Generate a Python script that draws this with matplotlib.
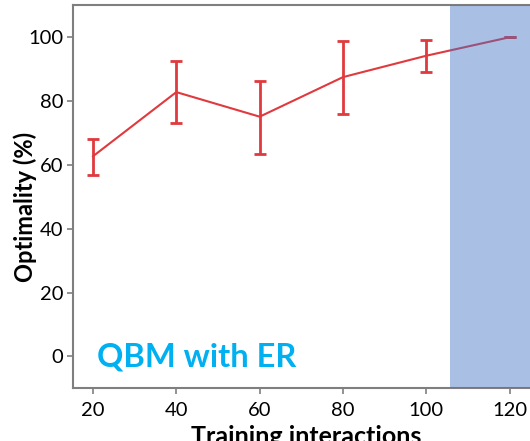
import matplotlib

matplotlib.use("Agg")
import matplotlib.pyplot as plt

# training interactions vs. optimality, mean with asymmetric error bars
interactions = [20, 40, 60, 80, 100, 120]
optimality = [62.7, 82.8, 75.1, 87.5, 94.2, 100.0]
err_low = [6.0, 9.6, 11.6, 11.5, 5.2, 0.0]
err_high = [5.5, 9.8, 11.3, 11.2, 5.0, 0.0]

shade_start = 105.7
y_ticks = [0, 20, 40, 60, 80, 100]
x_ticks = [20, 40, 60, 80, 100, 120]

red = "#E0393E"
grey = "#7F7F7F"

plt.rcParams["font.family"] = ["Lato", "DejaVu Sans"]

fig = plt.figure(figsize=(5.3, 4.41), dpi=100)
ax = fig.add_axes([0.1377, 0.1195, 0.879, 0.8685])

ax.errorbar(
    interactions, optimality, yerr=[err_low, err_high],
    color=red, linewidth=1.5, elinewidth=2.0, capsize=4.2, capthick=2.0, zorder=2,
)
ax.axvspan(shade_start, 140, color="#4472C4", alpha=0.45, linewidth=0, zorder=3)

ax.set_xlim(15.2, 127)
ax.set_ylim(-10, 110)
ax.set_xticks(x_ticks)
ax.set_yticks(y_ticks)

ax.text(21, -3.3, "QBM with ER", color="#00B0F0", fontsize=23.5, fontweight="bold",
        ha="left", va="baseline", zorder=4)

ax.set_ylabel("Optimality (%)", fontsize=17, fontweight="bold")
ax.set_xlabel("Training interactions", fontsize=18, fontweight="bold")
ax.yaxis.set_label_coords(-0.077, 0.473)
ax.xaxis.set_label_coords(0.5, -0.096)

for side in ("left", "bottom", "top", "right"):
    ax.spines[side].set_color(grey)
    ax.spines[side].set_linewidth(1.5)
ax.tick_params(axis="both", direction="out", length=4, width=1.2, color=grey,
               labelsize=14.5, labelcolor="black")
ax.tick_params(axis="x", pad=6)
ax.tick_params(axis="y", pad=3)

fig.savefig("out.png", dpi=100)
